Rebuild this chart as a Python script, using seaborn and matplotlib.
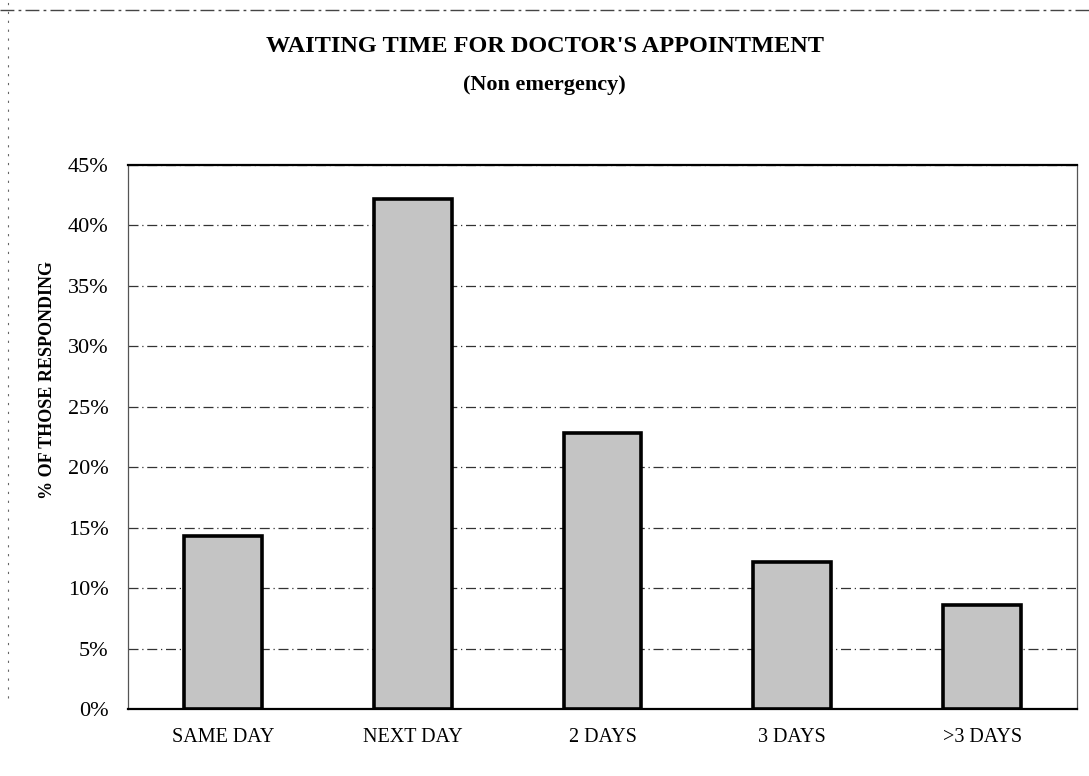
import matplotlib
matplotlib.use("Agg")
import matplotlib.pyplot as plt
import matplotlib.lines as mlines
import seaborn as sns
import pandas as pd
from matplotlib.ticker import PercentFormatter

categories = ["SAME DAY", "NEXT DAY", "2 DAYS", "3 DAYS", ">3 DAYS"]
percent_responding = [14.3, 42.2, 22.8, 12.2, 8.6]
y_ticks = [0, 5, 10, 15, 20, 25, 30, 35, 40, 45]

df = pd.DataFrame({"wait": categories, "pct": percent_responding})

sns.set_style("white")
plt.rcParams["font.family"] = ["Liberation Serif", "DejaVu Serif"]
for key in ["text.color", "axes.labelcolor", "xtick.color", "ytick.color"]:
    plt.rcParams[key] = "black"

fig = plt.figure(figsize=(10.89, 7.76), dpi=100)
ax = fig.add_axes([0.1175, 0.0863, 0.8715, 0.7011])

sns.barplot(data=df, x="wait", y="pct", color="#c4c4c4", width=0.41,
            edgecolor="black", linewidth=2.6, saturation=1, ax=ax, zorder=3)

ax.set_ylim(0, 45)
ax.set_yticks(y_ticks)
ax.yaxis.set_major_formatter(PercentFormatter(decimals=0))
ax.set_xlabel("")
ax.set_ylabel("")
ax.grid(axis="y", color="#333333", linestyle=(0, (8, 3, 1, 3)), linewidth=0.9, zorder=0)
ax.tick_params(axis="y", labelsize=16, length=0, pad=14)
ax.tick_params(axis="x", labelsize=14.5, length=0, pad=14)

for side in ["top", "bottom"]:
    ax.spines[side].set_color("black")
    ax.spines[side].set_linewidth(1.6)
for side in ["left", "right"]:
    ax.spines[side].set_color("#555555")
    ax.spines[side].set_linewidth(0.9)
    ax.spines[side].set_linestyle((0, (2, 1)))

fig.text(0.5, 1 - 47 / 776, "WAITING TIME FOR DOCTOR'S APPOINTMENT",
         ha="center", va="center", fontsize=17.5, fontweight="bold")
fig.text(0.5, 1 - 85 / 776, "(Non emergency)",
         ha="center", va="center", fontsize=16, fontweight="bold")
fig.text(48 / 1089, 1 - 380 / 776, "% OF THOSE RESPONDING", rotation=90,
         ha="center", va="center", fontsize=13, fontweight="bold")

# scanned page border
fig.add_artist(mlines.Line2D([0, 1], [1 - 10 / 776, 1 - 10 / 776], color="#444444",
                             linewidth=1, linestyle=(0, (10, 3, 2, 3))))
fig.add_artist(mlines.Line2D([8 / 1089, 8 / 1089], [0.1, 1], color="#666666",
                             linewidth=0.8, linestyle=(0, (2, 6))))

fig.savefig("out.png", dpi=100)
